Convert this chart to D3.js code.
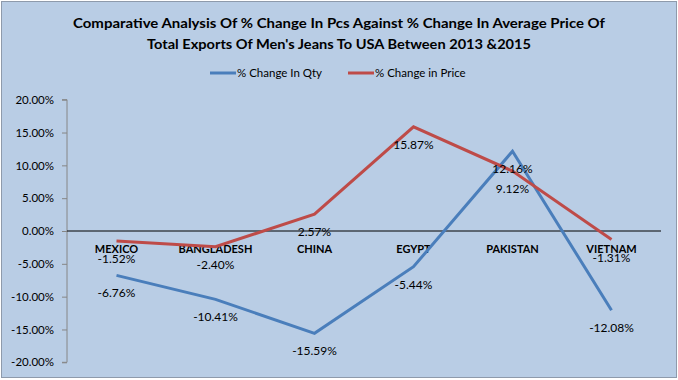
<!DOCTYPE html>
<html><head><meta charset="utf-8">
<script src="https://cdn.jsdelivr.net/npm/d3@7"></script>
<style>body{margin:0;background:#fff}svg{display:block}</style>
</head><body><svg id="c" width="678" height="380"></svg>
<script>
const categories = ["MEXICO","BANGLADESH","CHINA","EGYPT","PAKISTAN","VIETNAM"];
const qtyChange = [-6.76,-10.41,-15.59,-5.44,12.16,-12.08];
const priceChange = [-1.52,-2.40,2.57,15.87,9.12,-1.31];
const seriesNames = ["% Change In Qty","% Change in Price"];
const yTicks = [20,15,10,5,0,-5,-10,-15,-20];
const titleLines = ["Comparative Analysis Of % Change In Pcs Against  % Change In Average Price Of","Total Exports Of Men's Jeans To USA Between 2013 &2015"];

const svg = d3.select("#c");
const font = "Lato, 'Open Sans', sans-serif";
const pct = d => d3.format(".2f")(d).replace("\u2212","-")+"%";
svg.append("rect").attr("x",1.5).attr("y",1.5).attr("width",675).attr("height",376)
  .attr("fill","#B9CDE5").attr("stroke","#8E9AAB").attr("stroke-width",1);

const x = d3.scaleBand().domain(categories).range([67,661]);
const y = d3.scaleLinear().domain([-20,20]).range([362.3,99.7]);

// title
const titleW = [532,384];
svg.append("g").selectAll("text").data(titleLines).join("text")
  .attr("x",339).attr("y",(d,i)=>28+i*21).attr("text-anchor","middle")
  .attr("font-family",font).attr("font-weight","bold").attr("font-size",14)
  .attr("textLength",(d,i)=>titleW[i]).attr("lengthAdjust","spacingAndGlyphs")
  .attr("fill","#000").text(d=>d);

// legend
const colors = ["#4A7EBB","#BE4B48"];
const legX = [210,348];
seriesNames.forEach((n,i)=>{
  svg.append("line").attr("x1",legX[i]).attr("x2",legX[i]+26).attr("y1",73).attr("y2",73)
    .attr("stroke",colors[i]).attr("stroke-width",3);
  svg.append("text").attr("x",legX[i]+27).attr("y",77).attr("font-family",font)
    .attr("font-size",11.5).text(n);
});

// y axis
const ax = d3.axisLeft(y).tickValues(yTicks).tickSize(5).tickFormat(pct);
const g = svg.append("g").attr("transform","translate(67,0)").call(ax);
g.select(".domain").attr("stroke","#868686").attr("d","M-5,"+y(20)+"H0V"+y(-20)+"H-5");
g.selectAll(".tick line").attr("stroke","#868686");
g.selectAll(".tick text").attr("font-family",font).attr("font-size",11.5).attr("fill","#000").attr("x",-13);

// zero line
svg.append("line").attr("x1",67).attr("x2",661).attr("y1",y(0)).attr("y2",y(0)).attr("stroke","#000").attr("stroke-width",1);

// category labels
svg.append("g").selectAll("text").data(categories).join("text")
  .attr("x",d=>x(d)+x.bandwidth()/2).attr("y",253).attr("text-anchor","middle")
  .attr("font-family",font).attr("font-weight","bold").attr("font-size",11).text(d=>d);

const line = d3.line().x((d,i)=>x(categories[i])+x.bandwidth()/2).y(d=>y(d));
[qtyChange,priceChange].forEach((s,k)=>{
  svg.append("path").attr("d",line(s)).attr("fill","none").attr("stroke",colors[k]).attr("stroke-width",3);
});
[qtyChange,priceChange].forEach((s,k)=>{
  svg.append("g").selectAll("text").data(s).join("text")
    .attr("x",(d,i)=>x(categories[i])+x.bandwidth()/2).attr("y",d=>y(d)+22)
    .attr("text-anchor","middle").attr("font-family",font).attr("font-size",12)
    .text(pct);
});
</script></body></html>
